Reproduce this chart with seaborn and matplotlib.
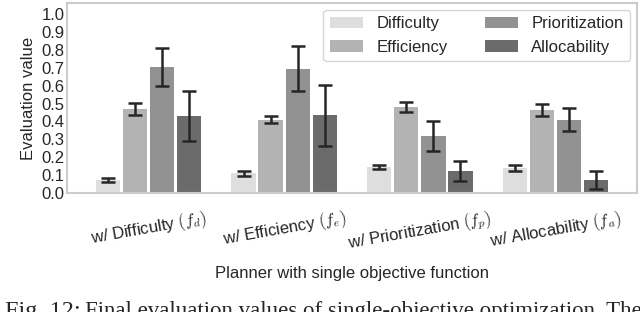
import matplotlib
matplotlib.use('Agg')
import matplotlib.pyplot as plt
import seaborn as sns
import pandas as pd
import numpy as np

# values
planners = [r'w/ Difficulty $(f_d)$', r'w/ Efficiency $(f_e)$',
            r'w/ Prioritization $(f_p)$', r'w/ Allocability $(f_a)$']
metrics = ['Difficulty', 'Efficiency', 'Prioritization', 'Allocability']
difficulty = [0.075, 0.11, 0.145, 0.14]
efficiency = [0.47, 0.41, 0.48, 0.465]
prioritization = [0.705, 0.695, 0.32, 0.41]
allocability = [0.43, 0.435, 0.125, 0.075]
err_difficulty = [0.012, 0.015, 0.012, 0.015]
err_efficiency = [0.035, 0.02, 0.03, 0.035]
err_prioritization = [0.105, 0.125, 0.085, 0.065]
err_allocability = [0.14, 0.17, 0.055, 0.05]
yticks = [0.0, 0.1, 0.2, 0.3, 0.4, 0.5, 0.6, 0.7, 0.8, 0.9, 1.0]

colors = ['#dedede', '#b3b3b3', '#929292', '#6b6b6b']

sns.set_style('white', {'axes.edgecolor': '#cccccc'})
plt.rcParams['font.family'] = ['Liberation Sans', 'DejaVu Sans']
plt.rcParams['mathtext.fontset'] = 'cm'

vals = [difficulty, efficiency, prioritization, allocability]
errs = [err_difficulty, err_efficiency, err_prioritization, err_allocability]
rows = []
for m, v, e in zip(metrics, vals, errs):
    for p, vi, ei in zip(planners, v, e):
        rows.append({'planner': p, 'metric': m, 'value': vi, 'err': ei})
df = pd.DataFrame(rows)

fig = plt.figure(figsize=(6.4, 3.12), dpi=100)
ax = fig.add_axes([0.105, 0.381, 0.89, 0.609])

sns.barplot(data=df, x='planner', y='value', hue='metric', order=planners,
            hue_order=metrics, palette=colors, width=0.8, gap=0.1,
            errorbar=None, saturation=1, linewidth=0, ax=ax)

# error bars at the bar centres
for m, cont in zip(metrics, ax.containers):
    sub = df[df['metric'] == m].set_index('planner').loc[planners]
    xs = [b.get_x() + b.get_width() / 2 for b in cont]
    ax.errorbar(xs, sub['value'], yerr=sub['err'], fmt='none',
                ecolor='#262626', elinewidth=1.8, capsize=5.3, capthick=1.8)

ax.set_xlim(-0.6, 3.6)
ax.set_ylim(0, 1.06)
ax.set_yticks(yticks)
ax.set_yticklabels([f'{t:.1f}' for t in yticks], fontsize=12)
ax.tick_params(axis='y', length=0, pad=2)
ax.tick_params(axis='x', length=0, pad=10)
plt.setp(ax.get_xticklabels(), rotation=10, fontsize=12)
ax.set_ylabel('Evaluation value', fontsize=12)
ax.set_xlabel('Planner with single objective function', fontsize=12, labelpad=8)
for s in ax.spines.values():
    s.set_linewidth(1.5)

leg = ax.legend(ncol=2, loc='upper right', fontsize=12, frameon=True,
                handlelength=2.0, columnspacing=2.2, borderaxespad=0.4)
leg.get_frame().set_edgecolor('#cccccc')

# caption, cut off at the bottom edge like in the source
base_y = (312 - 316.5) / 312
fig.text(5 / 640, base_y, 'Fig. 12:', family='Liberation Serif',
         fontsize=17.5, va='baseline', ha='left')
fig.text(85 / 640, base_y, 'Final evaluation values of single-objective optimization. The',
         family='Liberation Serif', fontsize=16.5, va='baseline', ha='left')

fig.savefig('out.png', dpi=100)
